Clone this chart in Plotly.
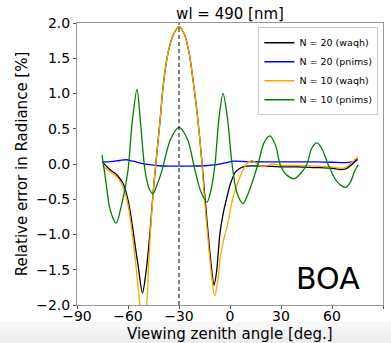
import plotly.graph_objects as go

# ---- data ----
sza = -30  # sun direction (dashed line)

x_black = [-75, -72, -69, -67.6, -66, -63, -60, -58, -56, -54, -51.5, -49.5, -48, -47, -45, -43, -41, -39.4, -36.5, -33, -30,
           -27, -24, -21.2, -19, -17, -15, -13, -11, -9.4, -8, -5.9, -4, -1.8, 0, 1.8, 3, 5.9, 10, 20, 30, 40, 50, 60, 65, 68, 72, 75]
y_black = [0.03, -0.05, -0.11, -0.13, -0.17, -0.27, -0.51, -0.78, -1.12, -1.45, -1.83, -1.55, -1.22, -0.95, -0.35, 0.16, 0.65, 1.09, 1.57, 1.85, 1.95,
           1.85, 1.57, 1.09, 0.65, 0.16, -0.4, -0.95, -1.45, -1.72, -1.55, -0.98, -0.7, -0.47, -0.3, -0.18, -0.12, -0.06, -0.03, -0.03, -0.04, -0.04, -0.05, -0.06, -0.08, -0.07, 0.0, 0.07]

x_blue = [-75, -70, -65, -61, -57, -52, -47, -42, -35, -25, -15, -8, -2, 2, 10, 20, 30, 40, 50, 60, 68, 72, 75]
y_blue = [0.03, 0.035, 0.05, 0.06, 0.04, 0.01, -0.01, -0.025, -0.03, -0.03, -0.025, -0.01, 0.02, 0.04, 0.035, 0.03, 0.03, 0.03, 0.03, 0.025, 0.02, 0.03, 0.05]

x_orange = [-75, -72, -69, -66, -63, -60, -58, -56, -54, -53, -51, -49, -48, -47, -45, -43, -41, -39.4, -36.5, -33, -30,
            -27, -24, -21.2, -19, -17, -15, -13, -11, -9, -7, -5.9, -4, -1.8, 1.8, 5.9, 9.8, 13, 16, 19, 25, 30, 40, 50, 60, 65, 68, 72, 75]
y_orange = [-0.03, -0.08, -0.14, -0.2, -0.32, -0.58, -0.9, -1.3, -1.75, -2.0, -2.25, -2.0, -1.5, -1.05, -0.35, 0.16, 0.65, 1.09, 1.57, 1.85, 1.95,
            1.85, 1.57, 1.09, 0.65, 0.16, -0.5, -1.05, -1.55, -1.87, -1.62, -1.36, -1.1, -0.9, -0.47, -0.18, 0.0, 0.05, 0.0, -0.04, 0.0, -0.02, -0.02, -0.03, -0.04, -0.06, -0.05, 0.03, 0.1]

x_green = [-75.3, -73, -70.5, -67, -63.5, -60, -57.5, -54.7, -52.5, -50, -47.5, -45.3, -43, -40, -35, -30, -25, -20.6, -17, -13.5, -11,
           -8.8, -6.5, -4.1, -1.5, 1.2, 4, 7.6, 11, 16.5, 20, 23.5, 27, 29.4, 33, 37.6, 41, 45.3, 48, 51.2, 54, 57.6, 62, 65, 68.2, 71, 73, 75.3]
y_green = [0.13, -0.25, -0.65, -0.84, -0.55, -0.09, 0.6, 1.06, 0.55, -0.09, -0.35, -0.42, -0.3, -0.09, 0.35, 0.52, 0.35, -0.09, -0.4, -0.54, -0.35,
           0.0, 0.65, 1.0, 0.65, 0.0, -0.4, -0.56, -0.4, 0.0, 0.3, 0.40, 0.25, 0.0, -0.15, -0.21, -0.15, 0.0, 0.22, 0.30, 0.22, 0.0, -0.22, -0.3, -0.33, -0.25, -0.12, -0.01]

x_ticks = [-90, -60, -30, 0, 30, 60, 90]
y_ticks = [-2.0, -1.5, -1.0, -0.5, 0.0, 0.5, 1.0, 1.5, 2.0]

series = [
    ("N = 20 (waqh)", x_black, y_black, "black"),
    ("N = 20 (pnims)", x_blue, y_blue, "blue"),
    ("N = 10 (waqh)", x_orange, y_orange, "orange"),
    ("N = 10 (pnims)", x_green, y_green, "green"),
]

FONT = "DejaVu Sans"
W, H = 391, 343
L, R, T, B = 77, 8, 23, 38
plot_h = H - T - B

fig = go.Figure()
for name, xs, ys, col in series:
    fig.add_trace(go.Scatter(x=xs, y=ys, mode="lines", name=name,
                             line=dict(color=col, width=1.3, shape="spline", smoothing=0.8)))

fig.add_vline(x=sza, line=dict(color="black", width=1, dash="4px,3px"))

fig.add_annotation(x=57.6, y=-1.62, text="BOA", showarrow=False,
                   font=dict(family=FONT, size=30, color="black"),
                   xanchor="center", yanchor="middle")

# x-axis title placed below tick labels
fig.add_annotation(xref="paper", yref="paper", x=0.5, y=-(334 - (H - B)) / plot_h,
                   text="Viewing zenith angle [deg.]", showarrow=False,
                   font=dict(family=FONT, size=15, color="black"),
                   xanchor="center", yanchor="middle")

# faint grey band at the bottom of the image
for i, c in enumerate(["#f7f7f7", "#f2f2f2", "#ededed"]):
    y0 = 322 + i * 7
    fig.add_shape(type="rect", xref="paper", yref="paper", layer="below",
                  x0=-L / (W - L - R), x1=(W - L) / (W - L - R),
                  y0=-(343 - (H - B)) / plot_h - 0.01, y1=-(y0 - (H - B)) / plot_h,
                  fillcolor=c, line=dict(width=0))

axis_common = dict(showgrid=False, zeroline=False, showline=True, mirror=True,
                   linecolor="#999999", linewidth=1, ticks="outside", ticklen=3,
                   tickcolor="#555555", tickfont=dict(family=FONT, size=14, color="black"))

fig.update_xaxes(range=[-90, 90], tickvals=x_ticks, ticktext=[f"{v}".replace("-", "\u2212") for v in x_ticks],
                 ticklabelstandoff=-5, **axis_common)
fig.update_yaxes(range=[-2, 2], tickvals=y_ticks, ticktext=[f"{v:.1f}".replace("-", "\u2212") for v in y_ticks],
                 title=dict(text="Relative error in Radiance [%]", font=dict(family=FONT, size=15, color="black"), standoff=4),
                 **axis_common)

fig.update_layout(
    width=W, height=H,
    margin=dict(l=L, r=R, t=T, b=B, autoexpand=False),
    paper_bgcolor="white", plot_bgcolor="white",
    title=dict(text="wl = 490 [nm]", x=0.5 * (77 + 383) / W, xanchor="center", y=1 - 14 / H, yanchor="middle",
               font=dict(family=FONT, size=15, color="black")),
    legend=dict(x=0.985, y=0.985, xanchor="right", yanchor="top", bgcolor="white",
                bordercolor="#cccccc", borderwidth=1, font=dict(family=FONT, size=9.5, color="black"),
                itemwidth=30, tracegroupgap=0),
    showlegend=True,
)

fig.write_html("out.html")
